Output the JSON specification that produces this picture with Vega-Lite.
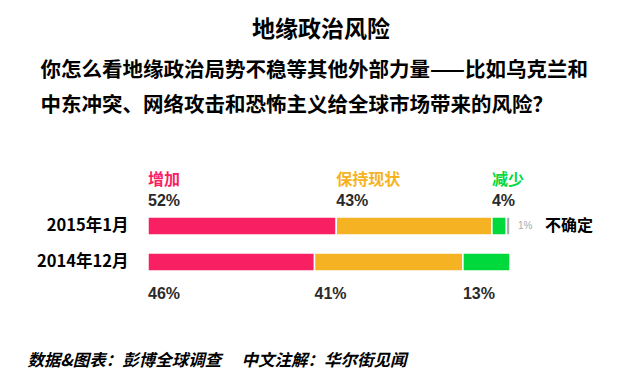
{
  "$schema": "https://vega.github.io/schema/vega-lite/v6.json",
  "autosize": "none",
  "width": 362,
  "height": 72,
  "padding": {"left": 148, "top": 208, "right": 130, "bottom": 103},
  "background": "white",
  "title": {
    "text": "地缘政治风险",
    "anchor": "middle",
    "frame": "group",
    "dx": -8,
    "font": "Noto Sans CJK SC",
    "fontSize": 23,
    "fontWeight": "bold",
    "color": "#000000",
    "offset": 18
  },
  "config": {"view": {"stroke": null}},
  "data": {
    "values": [
      {"period": "2015年1月", "category": "增加", "pct": 52, "label": "52%", "rank": 1},
      {"period": "2015年1月", "category": "保持现状", "pct": 43, "label": "43%", "rank": 2},
      {"period": "2015年1月", "category": "减少", "pct": 4, "label": "4%", "rank": 3},
      {"period": "2015年1月", "category": "不确定", "pct": 1, "label": "1%", "rank": 4},
      {"period": "2014年12月", "category": "增加", "pct": 46, "label": "46%", "rank": 1},
      {"period": "2014年12月", "category": "保持现状", "pct": 41, "label": "41%", "rank": 2},
      {"period": "2014年12月", "category": "减少", "pct": 13, "label": "13%", "rank": 3}
    ]
  },
  "transform": [
    {"stack": "pct", "groupby": ["period"], "sort": [{"field": "rank", "order": "ascending"}], "as": ["v0", "v1"]}
  ],
  "encoding": {
    "y": {
      "field": "period",
      "type": "nominal",
      "sort": ["2015年1月", "2014年12月"],
      "scale": {"paddingInner": 0.5, "paddingOuter": 0.25},
      "axis": {
        "title": ["你怎么看地缘政治局势不稳等其他外部力量——比如乌克兰和", "中东冲突、网络攻击和恐怖主义给全球市场带来的风险？"],
        "titleAngle": 0,
        "titleAlign": "left",
        "titleBaseline": "top",
        "titleX": -108,
        "titleY": -148,
        "titleLineHeight": 35,
        "titleFont": "Noto Sans CJK SC",
        "titleFontSize": 20.5,
        "titleFontWeight": "bold",
        "titleColor": "#000000",
        "domain": false,
        "ticks": false,
        "labelPadding": 20,
        "labelFont": "Noto Sans CJK SC",
        "labelFontSize": 16.5,
        "labelFontWeight": "bold",
        "labelColor": "#000000"
      }
    }
  },
  "layer": [
    {
      "mark": {"type": "bar", "stroke": "white", "strokeWidth": 1.5},
      "encoding": {
        "x": {
          "field": "v0",
          "type": "quantitative",
          "scale": {"domain": [0, 100], "nice": false},
          "axis": {
            "title": "数据&图表：彭博全球调查　   中文注解：华尔街见闻",
            "labels": false,
            "ticks": false,
            "domain": false,
            "grid": false,
            "titleFont": "Noto Sans CJK SC",
            "titleFontSize": 16.5,
            "titleFontWeight": "bold",
            "titleFontStyle": "italic",
            "titleColor": "#000000",
            "titleAlign": "left",
            "titleAnchor": "start",
            "titleBaseline": "middle",
            "titleX": -121,
            "titleY": 80
          }
        },
        "x2": {"field": "v1"},
        "color": {
          "field": "category",
          "type": "nominal",
          "scale": {
            "domain": ["增加", "保持现状", "减少", "不确定"],
            "range": ["#F91F63", "#F5B223", "#00D93C", "#A8A8A8"]
          },
          "legend": null
        }
      }
    },
    {
      "transform": [{"filter": "datum.period == '2015年1月' && datum.category != '不确定'"}],
      "mark": {"type": "text", "align": "left", "baseline": "middle", "dy": -46, "font": "Noto Sans CJK SC", "fontSize": 16, "fontWeight": "bold"},
      "encoding": {
        "x": {"field": "v0", "type": "quantitative"},
        "text": {"field": "category"},
        "color": {"field": "category", "type": "nominal"}
      }
    },
    {
      "transform": [{"filter": "datum.period == '2015年1月' && datum.category != '不确定'"}],
      "mark": {"type": "text", "align": "left", "baseline": "middle", "dy": -25, "font": "Liberation Sans", "fontSize": 16, "fontWeight": "bold", "color": "#2A2A2A"},
      "encoding": {
        "x": {"field": "v0", "type": "quantitative"},
        "text": {"field": "label"}
      }
    },
    {
      "transform": [{"filter": "datum.period == '2014年12月'"}],
      "mark": {"type": "text", "align": "left", "baseline": "middle", "dy": 32, "font": "Liberation Sans", "fontSize": 16, "fontWeight": "bold", "color": "#2A2A2A"},
      "encoding": {
        "x": {"field": "v0", "type": "quantitative"},
        "text": {"field": "label"}
      }
    },
    {
      "transform": [{"filter": "datum.category == '不确定'"}],
      "mark": {"type": "text", "align": "left", "baseline": "middle", "dx": 8, "font": "Liberation Sans", "fontSize": 10, "color": "#AAAAAA"},
      "encoding": {
        "x": {"field": "v1", "type": "quantitative"},
        "text": {"field": "label"}
      }
    },
    {
      "transform": [{"filter": "datum.category == '不确定'"}],
      "mark": {"type": "text", "align": "left", "baseline": "middle", "dx": 35, "font": "Noto Sans CJK SC", "fontSize": 16, "fontWeight": "bold", "color": "#000000"},
      "encoding": {
        "x": {"field": "v1", "type": "quantitative"},
        "text": {"field": "category"}
      }
    }
  ]
}
